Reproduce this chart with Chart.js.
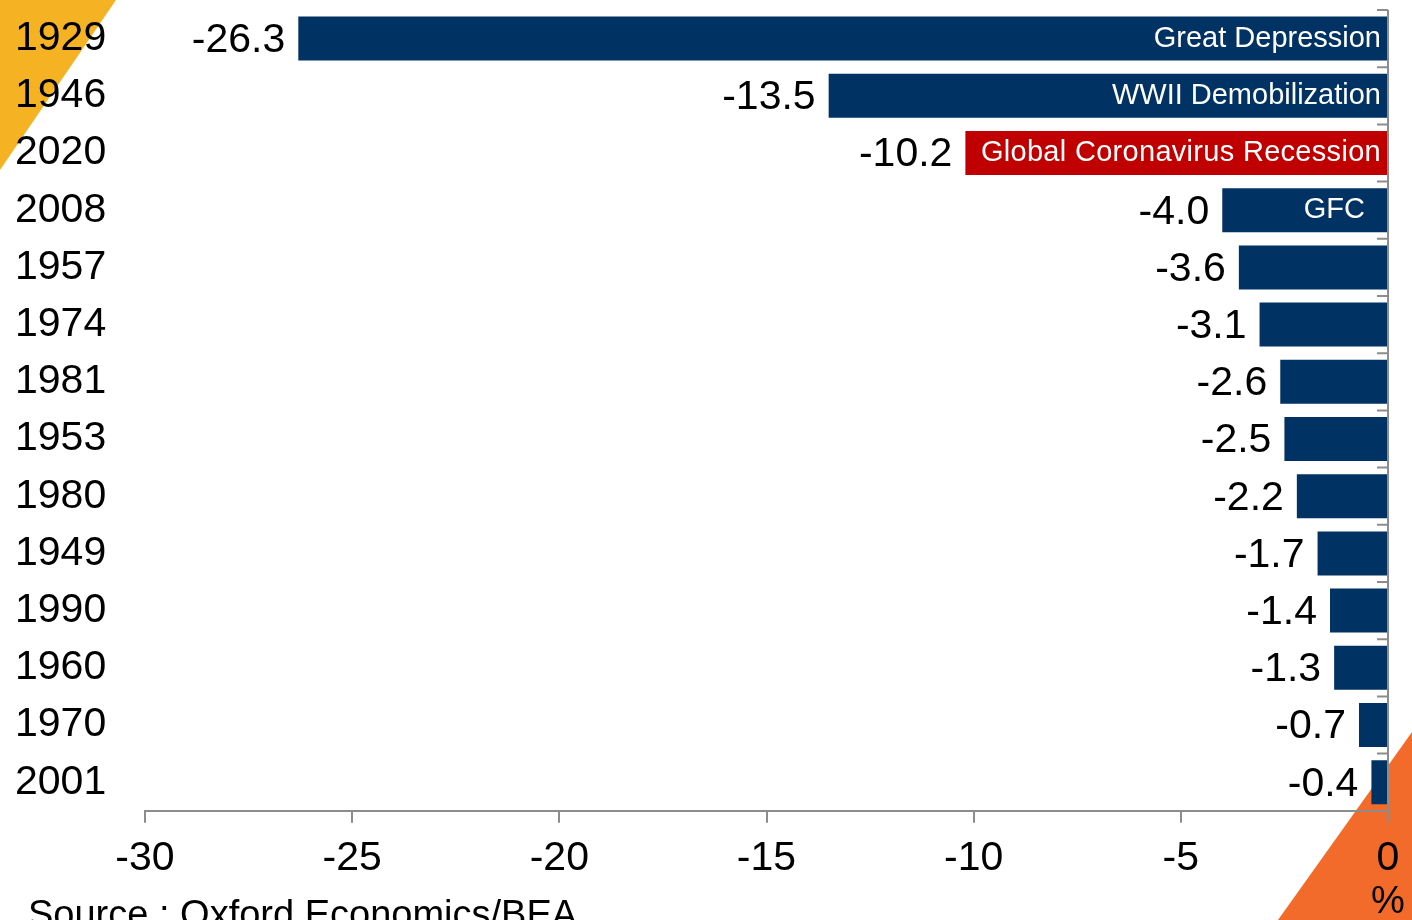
<!DOCTYPE html>
<html>
<head>
<meta charset="utf-8">
<script src="https://cdn.jsdelivr.net/npm/chart.js@4.4.1/dist/chart.umd.min.js"></script>
<style>
  html, body { margin: 0; padding: 0; background: #fff; overflow: hidden; }
  #wrap { position: relative; width: 1412px; height: 920px; }
  .corner { position: absolute; }
  #tl { left: 0; top: 0; width: 116px; height: 170px; background: #F5B324; clip-path: polygon(0 0, 100% 0, 0 100%); }
  #br { right: 0; bottom: 0; width: 134px; height: 188px; background: #F26B2A; clip-path: polygon(100% 0, 100% 100%, 0 100%); }
  canvas { position: absolute; left: 0; top: 0; }
  .note { position: absolute; font-family: "Liberation Sans", Arial, sans-serif; color: #000; white-space: nowrap; }
  #pct { left: 1371px; top: 879px; font-size: 38px; }
  #src { left: 28px; top: 893px; font-size: 38px; }
</style>
</head>
<body>
<div id="wrap">
  <div id="tl" class="corner"></div>
  <div id="br" class="corner"></div>
  <canvas id="myChart" width="1412" height="920"></canvas>
  <div id="pct" class="note">%</div>
  <div id="src" class="note">Source : Oxford Economics/BEA</div>
</div>
<script>
// ─── Données ───
const years   = ['1929', '1946', '2020', '2008', '1957', '1974', '1981', '1953', '1980', '1949', '1990', '1960', '1970', '2001'];
const changes = [-26.3, -13.5, -10.2, -4.0, -3.6, -3.1, -2.6, -2.5, -2.2, -1.7, -1.4, -1.3, -0.7, -0.4];
const events  = ['Great Depression', 'WWII Demobilization', 'Global Coronavirus Recession', 'GFC', '', '', '', '', '', '', '', '', '', ''];
const xTicks  = [-30, -25, -20, -15, -10, -5, 0];

const NAVY = '#003263';
const RED  = '#C00000';
const GREY = '#8c8c8c';
const FONT = '"Liberation Sans", Arial, sans-serif';

const barColors = years.map(y => (y === '2020' ? RED : NAVY));

// Valeurs à gauche des barres + noms des récessions dans les barres
const barLabels = {
  id: 'barLabels',
  afterDatasetsDraw(chart) {
    const ctx  = chart.ctx;
    const meta = chart.getDatasetMeta(0);
    const area = chart.chartArea;
    ctx.save();
    meta.data.forEach((bar, i) => {
      ctx.textBaseline = 'middle';
      ctx.fillStyle = '#000';
      ctx.textAlign = 'right';
      ctx.letterSpacing = '0px';
      ctx.font = '41px ' + FONT;
      ctx.fillText(changes[i].toFixed(1), bar.x - 13, bar.y + 2);

      if (events[i]) {
        ctx.fillStyle = '#fff';
        ctx.font = '29px ' + FONT;
        ctx.letterSpacing = years[i] === '2020' ? '0.3px' : '0px';
        const inset = events[i] === 'GFC' ? 23 : 7;
        ctx.fillText(events[i], area.right - inset, bar.y);
      }
    });
    ctx.restore();
  }
};

// Axe vertical à droite avec graduations vers l'intérieur
const rightAxis = {
  id: 'rightAxis',
  afterDraw(chart) {
    const ctx  = chart.ctx;
    const area = chart.chartArea;
    const y    = chart.scales.y;
    const step = (area.bottom - area.top) / years.length;
    ctx.save();
    ctx.strokeStyle = GREY;
    ctx.lineWidth = 2;
    ctx.beginPath();
    ctx.moveTo(area.right, area.top);
    ctx.lineTo(area.right, area.bottom);
    for (let i = 0; i < years.length; i++) {
      const yy = y.getPixelForValue(i) - step / 2;
      ctx.moveTo(area.right - 11, yy);
      ctx.lineTo(area.right, yy);
    }
    ctx.stroke();
    ctx.restore();
  }
};

const ctx = document.getElementById('myChart').getContext('2d');

new Chart(ctx, {
  type: 'bar',
  data: {
    labels: years,
    datasets: [{
      data: changes,
      backgroundColor: barColors,
      borderWidth: 0,
      barPercentage: 0.77,
      categoryPercentage: 1
    }]
  },
  options: {
    indexAxis: 'y',
    responsive: false,
    animation: false,
    layout: { padding: { left: 15, right: 24, top: 10, bottom: 26 } },
    plugins: {
      legend:  { display: false },
      tooltip: { enabled: false }
    },
    scales: {
      x: {
        type: 'linear',
        min: -30,
        max: 0,
        afterBuildTicks: scale => { scale.ticks = xTicks.map(v => ({ value: v })); },
        grid:   { drawOnChartArea: false, drawTicks: true, tickLength: 12, color: GREY, lineWidth: 2 },
        border: { display: true, color: GREY, width: 2 },
        ticks:  { color: '#000', font: { family: FONT, size: 41 }, padding: 11, maxRotation: 0 }
      },
      y: {
        position: 'left',
        grid:   { display: false },
        border: { display: false },
        afterFit: scale => {
          scale.width = 130;
          scale.paddingTop = 0;
          scale.paddingBottom = 0;
        },
        ticks:  { color: '#000', font: { family: FONT, size: 41 }, crossAlign: 'far', padding: 0 }
      }
    }
  },
  plugins: [barLabels, rightAxis]
});
</script>
</body>
</html>
